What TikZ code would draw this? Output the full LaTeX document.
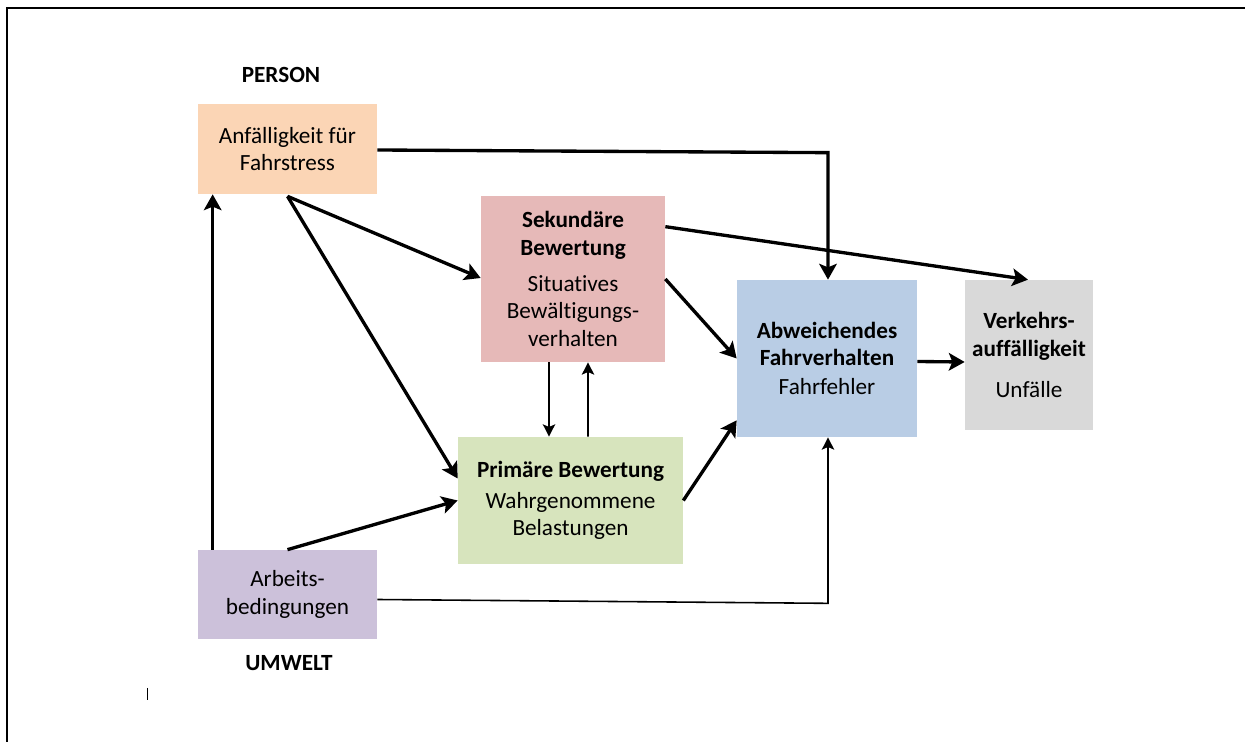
\documentclass[tikz,border=0pt]{standalone}
\usepackage{fontspec}
\setmainfont[Ligatures=NoCommon]{Carlito}
\usetikzlibrary{arrows.meta,calc}
\definecolor{anfcol}{HTML}{FBD5B5}
\definecolor{sekcol}{HTML}{E6B9B8}
\definecolor{primcol}{HTML}{D7E4BD}
\definecolor{abwcol}{HTML}{B9CDE5}
\definecolor{verkcol}{HTML}{D9D9D9}
\definecolor{arbcol}{HTML}{CCC1DA}

\begin{document}
\begin{tikzpicture}[x=0.02cm,y=-0.02cm,
    box/.style={draw=none,align=center,inner sep=0pt,font=\fontsize{13.2}{15.6}\selectfont},
    lbl/.style={font=\fontsize{13.2}{15.6}\selectfont\bfseries},
    thickarrow/.style={line width=1.9pt,-{Stealth[length=9pt,width=10pt,inset=2pt]}},
    thinarrow/.style={line width=0.9pt,-{Stealth[length=7pt,width=7pt,inset=1.5pt]}}]
  \useasboundingbox (0,0) rectangle (1245,742);
  \draw[line width=1.2pt] (7,742) -- (7,8) -- (1245,8);
  \draw[line width=0.4pt] (147,688) -- (147,700);

  \node[lbl] (person) at (281,75) {PERSON};
  \node[lbl] (umwelt) at (289,663) {UMWELT};

  \node[box,fill=anfcol,minimum width=3.58cm,minimum height=1.8cm] (anf) at (287.5,149)
    {Anfälligkeit für\\Fahrstress};
  \node[box,fill=sekcol,minimum width=3.68cm,minimum height=3.32cm] (sek) at (573,279)
    {\textbf{Sekundäre}\\\textbf{Bewertung}\\[5pt]Situatives\\Bewältigungs-\\verhalten};
  \node[box,fill=primcol,minimum width=4.5cm,minimum height=2.54cm] (prim) at (570.5,500.5)
    {\textbf{Primäre Bewertung}\\[2pt]Wahrgenommene\\Belastungen};
  \node[box,fill=abwcol,minimum width=3.6cm,minimum height=3.14cm] (abw) at (827,358.5)
    {\textbf{Abweichendes}\\\textbf{Fahrverhalten}\\[1pt]Fahrfehler};
  \node[box,fill=verkcol,minimum width=2.56cm,minimum height=3cm] (verk) at (1029,355)
    {\textbf{Verkehrs-}\\\textbf{auffälligkeit}\\[8pt]Unfälle};
  \node[box,fill=arbcol,minimum width=3.58cm,minimum height=1.78cm] (arb) at (287.5,594.5)
    {Arbeits-\\bedingungen};

  % Person
  \draw[thickarrow] ($(arb.north west)+(15,0)$) -- ($(anf.south west)+(15,0)$);
  \draw[thickarrow] ($(anf.east)+(0,1)$) -- ($(abw.north)+(1,-127)$) -- ($(abw.north)+(1,0)$);
  \draw[thickarrow] ($(anf.south)+(0,2)$) -- ($(sek.west)+(0,-1)$);
  \draw[thickarrow] ($(anf.south)+(0,2)$) -- ($(prim.west)+(0,-22)$);
  % Bewertung
  \draw[thickarrow] ($(sek.north east)+(0,31)$) -- ($(verk.north)+(-1,0)$);
  \draw[thickarrow] (sek.east) -- (abw.west);
  \draw[thinarrow] ($(sek.south)+(-24,0)$) -- ($(prim.north)+(-21.5,0)$);
  \draw[thinarrow] ($(prim.north)+(17.5,0)$) -- ($(sek.south)+(15,0)$);
  \draw[thickarrow] (prim.east) -- ($(abw.south west)+(0,-17)$);
  % Umwelt
  \draw[thickarrow] (arb.north) -- (prim.west);
  \draw[thinarrow] ($(arb.east)+(0,5)$) -- ($(abw.south)+(1,166)$) -- ($(abw.south)+(1,0)$);
  \draw[thickarrow] ($(abw.east)+(0,3)$) -- ($(verk.west)+(0,7)$);
\end{tikzpicture}
\end{document}
